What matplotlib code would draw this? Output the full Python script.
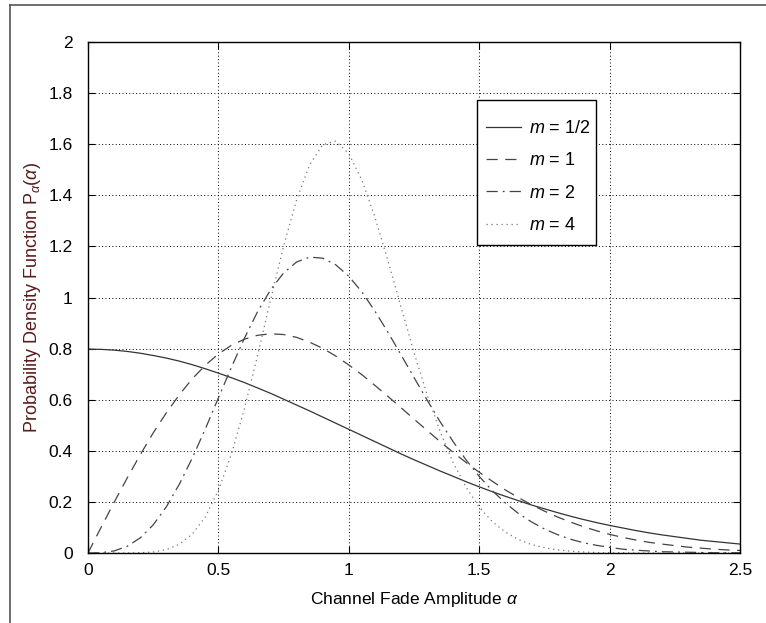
import matplotlib
matplotlib.use("Agg")
import matplotlib.pyplot as plt
from matplotlib.lines import Line2D
from matplotlib.patches import Rectangle

plt.rcParams['font.family'] = ['Liberation Sans', 'DejaVu Sans']
plt.rcParams['mathtext.fontset'] = 'custom'
plt.rcParams['mathtext.rm'] = 'Liberation Sans'
plt.rcParams['mathtext.it'] = 'Liberation Sans:italic'

alpha = [0.00, 0.05, 0.10, 0.15, 0.20, 0.25, 0.30, 0.35, 0.40, 0.45,
         0.50, 0.55, 0.60, 0.65, 0.70, 0.75, 0.80, 0.85, 0.90, 0.95,
         1.00, 1.05, 1.10, 1.15, 1.20, 1.25, 1.30, 1.35, 1.40, 1.45,
         1.50, 1.55, 1.60, 1.65, 1.70, 1.75, 1.80, 1.85, 1.90, 1.95,
         2.00, 2.05, 2.10, 2.15, 2.20, 2.25, 2.30, 2.35, 2.40, 2.45, 2.50]

pdf_m_half = [0.798, 0.797, 0.794, 0.789, 0.782, 0.773, 0.763, 0.751, 0.737, 0.721,
              0.704, 0.686, 0.667, 0.646, 0.625, 0.602, 0.579, 0.556, 0.532, 0.508,
              0.484, 0.460, 0.436, 0.412, 0.388, 0.365, 0.343, 0.321, 0.300, 0.279,
              0.259, 0.240, 0.222, 0.205, 0.188, 0.173, 0.158, 0.144, 0.131, 0.119,
              0.108, 0.098, 0.088, 0.079, 0.071, 0.064, 0.057, 0.050, 0.045, 0.040, 0.035]

pdf_m_1 = [0.000, 0.100, 0.198, 0.293, 0.384, 0.470, 0.548, 0.619, 0.682, 0.735,
           0.779, 0.813, 0.837, 0.852, 0.858, 0.855, 0.844, 0.825, 0.801, 0.771,
           0.736, 0.698, 0.656, 0.613, 0.569, 0.524, 0.480, 0.436, 0.394, 0.354,
           0.316, 0.281, 0.247, 0.217, 0.189, 0.164, 0.141, 0.121, 0.103, 0.087,
           0.073, 0.061, 0.051, 0.042, 0.035, 0.029, 0.023, 0.019, 0.015, 0.012, 0.010]

pdf_m_2 = [0.000, 0.001, 0.008, 0.026, 0.059, 0.110, 0.180, 0.269, 0.372, 0.486,
           0.607, 0.727, 0.841, 0.944, 1.030, 1.096, 1.139, 1.158, 1.154, 1.128,
           1.083, 1.022, 0.947, 0.864, 0.776, 0.687, 0.599, 0.514, 0.436, 0.364,
           0.300, 0.244, 0.196, 0.155, 0.122, 0.094, 0.072, 0.054, 0.040, 0.030,
           0.022, 0.015, 0.011, 0.008, 0.005, 0.004, 0.003, 0.002, 0.001, 0.001, 0.001]

pdf_m_4 = [0.000, 0.000, 0.000, 0.000, 0.001, 0.004, 0.013, 0.034, 0.074, 0.142,
           0.245, 0.387, 0.566, 0.772, 0.990, 1.201, 1.383, 1.520, 1.598, 1.612,
           1.563, 1.460, 1.315, 1.144, 0.964, 0.785, 0.621, 0.476, 0.354, 0.257,
           0.180, 0.123, 0.082, 0.053, 0.033, 0.021, 0.012, 0.007, 0.004, 0.002,
           0.001, 0.001, 0.000, 0.000, 0.000, 0.000, 0.000, 0.000, 0.000, 0.000, 0.000]

labels = ['$m$ = 1/2', '$m$ = 1', '$m$ = 2', '$m$ = 4']
xticks = [0, 0.5, 1, 1.5, 2, 2.5]
xticklabels = ['0', '0.5', '1', '1.5', '2', '2.5']
yticks = [0, 0.2, 0.4, 0.6, 0.8, 1, 1.2, 1.4, 1.6, 1.8, 2]
yticklabels = ['0', '0.2', '0.4', '0.6', '0.8', '1', '1.2', '1.4', '1.6', '1.8', '2']

fig = plt.figure(figsize=(7.66, 6.23), dpi=100)
ax = fig.add_axes([88/766, 1 - 553/623, 652/766, 511/623])

ax.plot(alpha, pdf_m_half, color='#333333', lw=0.9, ls='-', label=labels[0])
ax.plot(alpha, pdf_m_1, color='#444444', lw=0.9, ls=(0, (9, 6)), label=labels[1])
ax.plot(alpha, pdf_m_2, color='#444444', lw=0.9, ls=(0, (9, 4, 1.5, 4)), label=labels[2])
ax.plot(alpha, pdf_m_4, color='#777777', lw=0.9, ls=(0, (1, 3)), label=labels[3])

ax.set_xlim(0, 2.5)
ax.set_ylim(0, 2)
ax.set_xticks(xticks)
ax.set_xticklabels(xticklabels)
ax.set_yticks(yticks)
ax.set_yticklabels(yticklabels)
ax.tick_params(direction='in', length=5, labelsize=12.5, colors='black',
               top=True, right=True)
ax.tick_params(axis='y', pad=11)
ax.tick_params(axis='x', pad=7)
ax.grid(True, color='black', ls=(0, (1, 2.5)), lw=0.7)
for s in ax.spines.values():
    s.set_linewidth(1.0)
    s.set_color('black')

ax.set_xlabel('Channel Fade Amplitude $\\alpha$', fontsize=12.5, labelpad=9)
ax.set_ylabel('Probability Density Function P$_{\\alpha}$($\\alpha$)', fontsize=13,
              color='#5a1a1a', labelpad=4)

# legend box
box = Rectangle(((477 - 88) / 652, (553 - 245) / 511), 119 / 652, 145 / 511,
                transform=ax.transAxes, facecolor='white', edgecolor='black',
                lw=1.0, zorder=4)
ax.add_patch(box)
leg = ax.legend(loc='upper left', bbox_to_anchor=((486 - 88) / 652, (553 - 120) / 511),
                fontsize=13, frameon=False, handlelength=1.95,
                borderpad=0, labelspacing=0.85, handletextpad=0.45, borderaxespad=0)
leg.set_zorder(5)

# thin outer frame lines (top and left)
fig.add_artist(Line2D([10/766, 1.0], [1 - 5/623, 1 - 5/623], transform=fig.transFigure,
                      color='#555555', lw=1.2))
fig.add_artist(Line2D([10/766, 10/766], [0, 1 - 5/623], transform=fig.transFigure,
                      color='#555555', lw=1.2))

fig.savefig('out.png', dpi=100)
